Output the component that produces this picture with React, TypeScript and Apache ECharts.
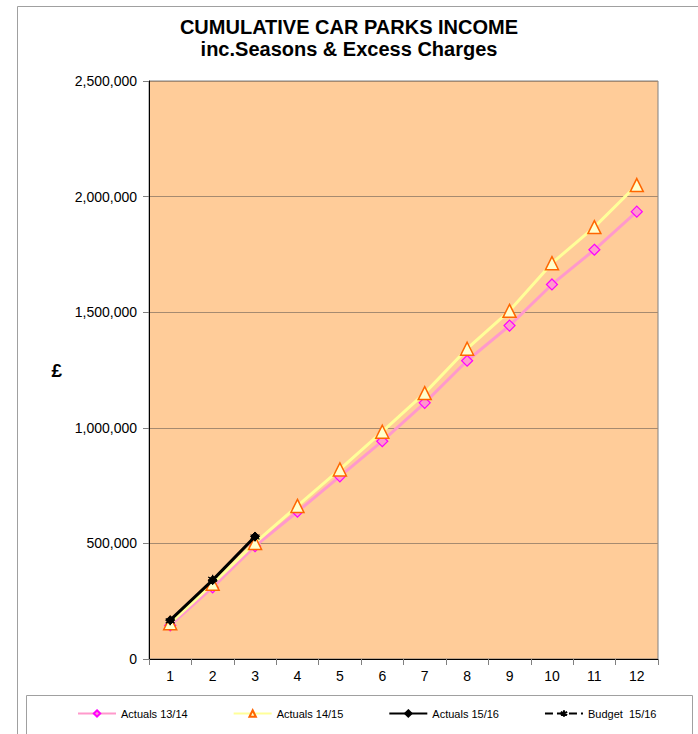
import React, { useEffect, useRef } from "react";
import * as echarts from "echarts";

const months = ["1", "2", "3", "4", "5", "6", "7", "8", "9", "10", "11", "12"];
const actuals1314 = [145000, 310000, 488000, 637000, 790000, 942000, 1108000, 1290000, 1442000, 1620000, 1770000, 1935000];
const actuals1415 = [155000, 325000, 502000, 662000, 820000, 983000, 1150000, 1342000, 1506000, 1712000, 1868000, 2050000];
const actuals1516 = [168000, 341000, 530000];
const budget1516 = [165000, 345000, 528000];
const yTicks = { min: 0, max: 2500000, interval: 500000 };

const FONT = "'Liberation Sans', Arial, sans-serif";
const ASTERISK = "path://M5,0L5,10M0.7,2.5L9.3,7.5M0.7,7.5L9.3,2.5";

export default function App() {
  const ref = useRef<HTMLDivElement>(null);
  useEffect(() => {
    if (!ref.current) return;
    const chart = echarts.init(ref.current, null, { renderer: "svg" });
    chart.setOption({
      animation: false,
      backgroundColor: "#ffffff",
      textStyle: { fontFamily: FONT },
      title: {
        text: "CUMULATIVE CAR PARKS INCOME\ninc.Seasons & Excess Charges",
        left: "center",
        top: 16,
        padding: [0, 0, 0, 12],
        textStyle: { fontFamily: FONT, fontSize: 20, fontWeight: "bold", color: "#000", lineHeight: 22 },
      },
      graphic: [
        { type: "rect", shape: { x: 17.5, y: 6.5, width: 800, height: 800 }, style: { fill: "none", stroke: "#a0a0a0", lineWidth: 1 }, silent: true, z: -10 },
        { type: "rect", shape: { x: 26.5, y: 695.5, width: 666, height: 100 }, style: { fill: "none", stroke: "#a0a0a0", lineWidth: 1 }, silent: true, z: -10 },
      ],
      legend: {
        left: 77,
        top: 708,
        padding: 0,
        itemWidth: 38,
        itemHeight: 8,
        itemGap: 45,
        textStyle: { fontFamily: FONT, fontSize: 11, color: "#000" },
        data: ["Actuals 13/14", "Actuals 14/15", "Actuals 15/16", "Budget  15/16"],
      },
      grid: {
        left: 149,
        top: 81,
        right: 40,
        bottom: 75,
        show: true,
        backgroundColor: "#FFCC99",
        borderColor: "#808080",
        borderWidth: 1,
      },
      xAxis: {
        type: "category",
        data: months,
        boundaryGap: true,
        axisLine: { lineStyle: { color: "#000", width: 1 } },
        axisTick: { show: true, length: 6, lineStyle: { color: "#808080" } },
        axisLabel: { fontFamily: FONT, fontSize: 14, color: "#000", margin: 10 },
      },
      yAxis: {
        type: "value",
        min: yTicks.min,
        max: yTicks.max,
        interval: yTicks.interval,
        name: "£",
        nameLocation: "middle",
        nameRotate: 0,
        nameGap: 87,
        nameTextStyle: { fontFamily: FONT, fontSize: 19, fontWeight: "bold", color: "#000" },
        axisLine: { show: true, lineStyle: { color: "#000", width: 1 } },
        axisTick: { show: true, length: 6, lineStyle: { color: "#808080" } },
        axisLabel: {
          fontFamily: FONT,
          fontSize: 14,
          color: "#000",
          margin: 12,
          formatter: (v: number) => v.toLocaleString("en-GB"),
        },
        splitLine: { show: true, lineStyle: { color: "#a68a70", width: 1 } },
      },
      series: [
        {
          name: "Actuals 13/14",
          type: "line",
          data: actuals1314,
          symbol: "diamond",
          symbolSize: 11,
          lineStyle: { color: "#FF99CC", width: 3 },
          itemStyle: { color: "#FF99CC", borderColor: "#FF00FF", borderWidth: 1.2 },
          z: 2,
        },
        {
          name: "Actuals 14/15",
          type: "line",
          data: actuals1415,
          symbol: "triangle",
          symbolSize: 13,
          lineStyle: { color: "#FFFF99", width: 3 },
          itemStyle: { color: "#FFFFCC", borderColor: "#FF6600", borderWidth: 1.5 },
          z: 3,
        },
        {
          name: "Budget  15/16",
          type: "line",
          data: budget1516,
          symbol: ASTERISK,
          symbolSize: 9,
          lineStyle: { color: "#000", width: 1, type: "dashed" },
          itemStyle: { color: "#000", borderColor: "#000", borderWidth: 1.2 },
          z: 4,
        },
        {
          name: "Actuals 15/16",
          type: "line",
          data: actuals1516,
          symbol: "diamond",
          symbolSize: 9,
          lineStyle: { color: "#000", width: 3 },
          itemStyle: { color: "#000", borderColor: "#000", borderWidth: 1 },
          z: 5,
        },
      ],
    });
    return () => chart.dispose();
  }, []);
  return (
    <div
      ref={ref}
      style={{ position: "fixed", left: 0, top: 0, width: 698, height: 734 }}
    />
  );
}
